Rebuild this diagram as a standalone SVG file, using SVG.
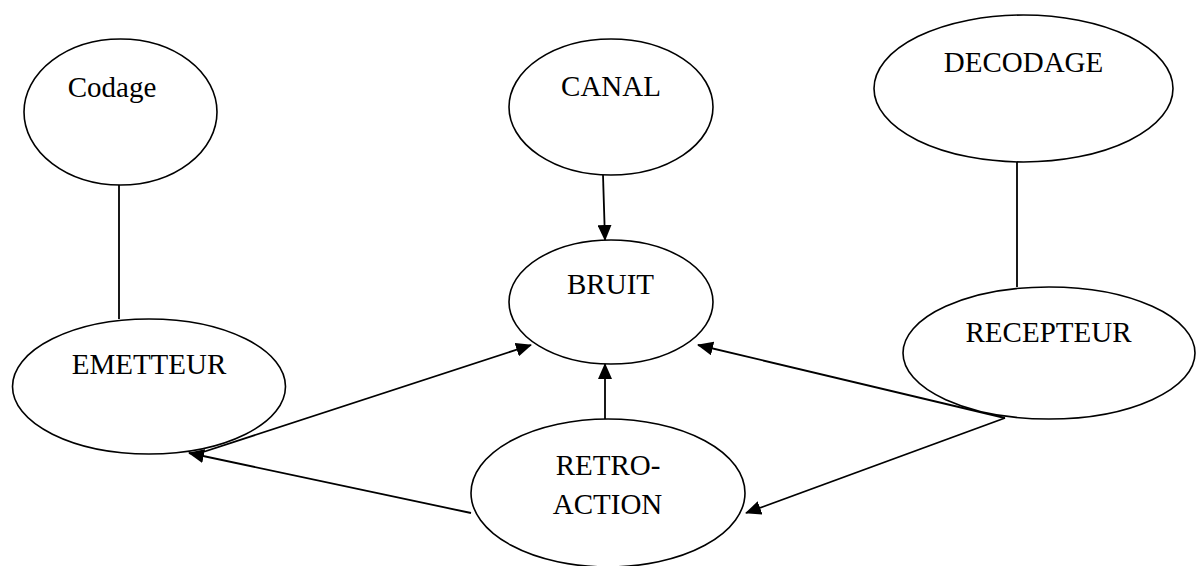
<svg xmlns="http://www.w3.org/2000/svg" width="1198" height="566" viewBox="0 0 1198 566">
<style>
.node ellipse{fill:#fff;stroke:#000;stroke-width:1.6}
.node text{font-family:"Liberation Serif","Times New Roman",serif;font-size:29px;fill:#000;text-anchor:middle}
.conn line{stroke:#000;stroke-width:1.8;fill:none}
.arr{marker-end:url(#ah)}
</style>
<defs>
<marker id="ah" markerUnits="userSpaceOnUse" markerWidth="16" markerHeight="14" refX="15" refY="7" orient="auto">
<path d="M0,0 L16,7 L0,14 Z" fill="#000"/>
</marker>
</defs>
<rect width="1198" height="566" fill="#fff"/>
<g id="connectors" class="conn">
<line x1="119" y1="185" x2="119" y2="319"/>
<line x1="1017" y1="162" x2="1017" y2="287"/>
<line class="arr" x1="603" y1="175" x2="605" y2="240"/>
<line class="arr" x1="605" y1="419" x2="605" y2="364"/>
<line class="arr" x1="194" y1="455" x2="531" y2="345"/>
<line class="arr" x1="471" y1="513" x2="189" y2="453"/>
<line class="arr" x1="1005" y1="418" x2="698" y2="345"/>
<line class="arr" x1="1005" y1="418" x2="746" y2="513"/>
</g>
<g id="codage" class="node"><ellipse cx="120.5" cy="112" rx="96.5" ry="73"/><text x="112" y="97">Codage</text></g>
<g id="canal" class="node"><ellipse cx="611" cy="107" rx="102" ry="68"/><text x="611" y="96">CANAL</text></g>
<g id="decodage" class="node"><ellipse cx="1023.5" cy="88.5" rx="149.5" ry="73.5"/><text x="1023.5" y="72">DECODAGE</text></g>
<g id="bruit" class="node"><ellipse cx="611" cy="302" rx="102" ry="62"/><text x="610.5" y="294">BRUIT</text></g>
<g id="emetteur" class="node"><ellipse cx="149" cy="386.5" rx="136.5" ry="67.5"/><text x="149" y="374">EMETTEUR</text></g>
<g id="recepteur" class="node"><ellipse cx="1049" cy="353" rx="146" ry="66"/><text x="1048.5" y="342">RECEPTEUR</text></g>
<g id="retroaction" class="node"><ellipse cx="608" cy="493" rx="137" ry="74"/><text x="608" y="475">RETRO-</text><text x="607.5" y="514">ACTION</text></g>
</svg>
